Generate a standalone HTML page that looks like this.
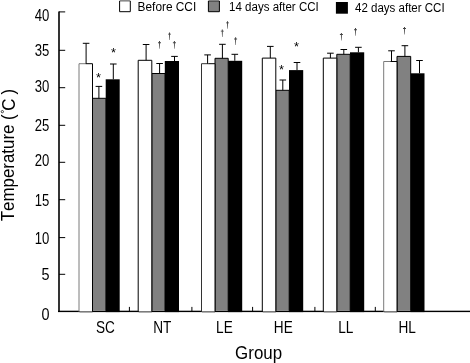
<!DOCTYPE html><html><head><meta charset="utf-8"><style>html,body{margin:0;padding:0;background:#fff;overflow:hidden}svg{display:block;will-change:transform}text{font-family:"Liberation Sans", sans-serif;fill:#000;font-kerning:none}</style></head><body>
<svg width="470" height="363" viewBox="0 0 470 363">
<rect width="470" height="363" fill="#fff"/>
<rect x="58" y="310.7" width="412" height="1.4" fill="#000"/>
<rect x="105.70" y="79.30" width="14.00" height="232.80" fill="#000"/>
<rect x="92.50" y="98.30" width="13.40" height="212.50" fill="#818181"/>
<path d="M92.50 310.8V98.30H105.90V310.8" fill="none" stroke="#000" stroke-width="1"/>
<rect x="79.00" y="63.70" width="13.50" height="247.30" fill="#fff"/>
<rect x="79.50" y="311.0" width="13.00" height="1.5" fill="#7c7c7c"/>
<path d="M79.00 311.7V63.70H85.75" fill="none" stroke="#7a7a7a" stroke-width="1"/>
<path d="M85.75 63.70H92.50V311.7" fill="none" stroke="#000" stroke-width="1"/>
<rect x="164.80" y="61.00" width="14.20" height="251.10" fill="#000"/>
<rect x="151.80" y="73.50" width="13.20" height="237.30" fill="#818181"/>
<path d="M151.80 310.8V73.50H165.00V310.8" fill="none" stroke="#000" stroke-width="1"/>
<rect x="138.20" y="60.30" width="13.60" height="250.70" fill="#fff"/>
<rect x="138.70" y="311.0" width="13.10" height="1.5" fill="#7c7c7c"/>
<path d="M138.20 311.7V60.30H145.00" fill="none" stroke="#000" stroke-width="1"/>
<path d="M145.00 60.30H151.80V311.7" fill="none" stroke="#000" stroke-width="1"/>
<rect x="228.00" y="60.80" width="14.20" height="251.30" fill="#000"/>
<rect x="215.00" y="58.30" width="13.20" height="252.50" fill="#818181"/>
<path d="M215.00 310.8V58.30H228.20V310.8" fill="none" stroke="#000" stroke-width="1"/>
<rect x="201.50" y="63.70" width="13.50" height="247.30" fill="#fff"/>
<rect x="202.00" y="311.0" width="13.00" height="1.5" fill="#7c7c7c"/>
<path d="M201.50 311.7V63.70H208.25" fill="none" stroke="#333" stroke-width="1"/>
<path d="M208.25 63.70H215.00V311.7" fill="none" stroke="#000" stroke-width="1"/>
<rect x="289.00" y="70.10" width="14.20" height="242.00" fill="#000"/>
<rect x="275.80" y="90.30" width="13.40" height="220.50" fill="#818181"/>
<path d="M275.80 310.8V90.30H289.20V310.8" fill="none" stroke="#000" stroke-width="1"/>
<rect x="262.30" y="58.10" width="13.50" height="252.90" fill="#fff"/>
<rect x="262.80" y="311.0" width="13.00" height="1.5" fill="#7c7c7c"/>
<path d="M262.30 311.7V58.10H269.05" fill="none" stroke="#000" stroke-width="1"/>
<path d="M269.05 58.10H275.80V311.7" fill="none" stroke="#000" stroke-width="1"/>
<rect x="350.00" y="52.30" width="14.20" height="259.80" fill="#000"/>
<rect x="336.80" y="54.30" width="13.40" height="256.50" fill="#818181"/>
<path d="M336.80 310.8V54.30H350.20V310.8" fill="none" stroke="#000" stroke-width="1"/>
<rect x="323.30" y="58.10" width="13.50" height="252.90" fill="#fff"/>
<rect x="323.80" y="311.0" width="13.00" height="1.5" fill="#7c7c7c"/>
<path d="M323.30 311.7V58.10H330.05" fill="none" stroke="#000" stroke-width="1"/>
<path d="M330.05 58.10H336.80V311.7" fill="none" stroke="#000" stroke-width="1"/>
<rect x="410.50" y="73.30" width="14.00" height="238.80" fill="#000"/>
<rect x="397.00" y="56.40" width="13.70" height="254.40" fill="#818181"/>
<path d="M397.00 310.8V56.40H410.70V310.8" fill="none" stroke="#000" stroke-width="1"/>
<rect x="383.70" y="61.50" width="13.30" height="249.50" fill="#fff"/>
<rect x="384.20" y="311.0" width="12.80" height="1.5" fill="#7c7c7c"/>
<path d="M383.70 311.7V61.50H390.35" fill="none" stroke="#7a7a7a" stroke-width="1"/>
<path d="M390.35 61.50H397.00V311.7" fill="none" stroke="#000" stroke-width="1"/>
<path d="M86.10 63.70V43.30M82.80 43.30H89.40" stroke="#000" stroke-width="1" fill="none"/>
<path d="M98.90 98.30V86.40M95.60 86.40H102.20" stroke="#000" stroke-width="1" fill="none"/>
<path d="M113.30 79.30V64.00M110.00 64.00H116.60" stroke="#000" stroke-width="1" fill="none"/>
<path d="M146.10 60.30V44.50M142.80 44.50H149.40" stroke="#000" stroke-width="1" fill="none"/>
<path d="M159.60 73.50V63.50M156.30 63.50H162.90" stroke="#000" stroke-width="1" fill="none"/>
<path d="M174.50 61.00V56.40M171.20 56.40H177.80" stroke="#000" stroke-width="1" fill="none"/>
<path d="M207.60 63.70V54.90M204.30 54.90H210.90" stroke="#000" stroke-width="1" fill="none"/>
<path d="M222.40 58.30V44.30M219.10 44.30H225.70" stroke="#000" stroke-width="1" fill="none"/>
<path d="M234.80 60.80V54.30M231.50 54.30H238.10" stroke="#000" stroke-width="1" fill="none"/>
<path d="M270.30 58.10V46.40M267.00 46.40H273.60" stroke="#000" stroke-width="1" fill="none"/>
<path d="M282.80 90.30V80.00M279.50 80.00H286.10" stroke="#000" stroke-width="1" fill="none"/>
<path d="M297.00 70.10V62.50M293.70 62.50H300.30" stroke="#000" stroke-width="1" fill="none"/>
<path d="M330.40 58.10V53.20M327.10 53.20H333.70" stroke="#000" stroke-width="1" fill="none"/>
<path d="M343.80 54.30V49.50M340.50 49.50H347.10" stroke="#000" stroke-width="1" fill="none"/>
<path d="M358.40 52.30V47.30M355.10 47.30H361.70" stroke="#000" stroke-width="1" fill="none"/>
<path d="M391.50 61.50V50.80M388.20 50.80H394.80" stroke="#000" stroke-width="1" fill="none"/>
<path d="M404.90 56.40V45.70M401.60 45.70H408.20" stroke="#000" stroke-width="1" fill="none"/>
<path d="M419.50 73.30V60.50M416.20 60.50H422.80" stroke="#000" stroke-width="1" fill="none"/>
<path d="M59.00 11.40V312.1" stroke="#000" stroke-width="1.6" fill="none"/>
<path d="M59.00 11.90H65.2" stroke="#000" stroke-width="1"/>
<path d="M59.00 50.30H65.2" stroke="#000" stroke-width="1"/>
<path d="M59.00 87.70H65.2" stroke="#000" stroke-width="1"/>
<path d="M59.00 125.30H65.2" stroke="#000" stroke-width="1"/>
<path d="M59.00 162.30H65.2" stroke="#000" stroke-width="1"/>
<path d="M59.00 199.70H65.2" stroke="#000" stroke-width="1"/>
<path d="M59.00 237.60H65.2" stroke="#000" stroke-width="1"/>
<path d="M59.00 274.30H65.2" stroke="#000" stroke-width="1"/>
<path d="M129.40 311V306.9" stroke="#000" stroke-width="1"/>
<path d="M191.90 311V306.9" stroke="#000" stroke-width="1"/>
<path d="M252.60 311V306.9" stroke="#000" stroke-width="1"/>
<path d="M314.90 311V306.9" stroke="#000" stroke-width="1"/>
<path d="M375.30 311V306.9" stroke="#000" stroke-width="1"/>
<text transform="translate(49.30 20.60) scale(0.800 1)" text-anchor="end" font-size="16.4">40</text>
<text transform="translate(49.30 56.00) scale(0.800 1)" text-anchor="end" font-size="16.4">35</text>
<text transform="translate(49.30 92.30) scale(0.800 1)" text-anchor="end" font-size="16.4">30</text>
<text transform="translate(49.30 131.00) scale(0.800 1)" text-anchor="end" font-size="16.4">25</text>
<text transform="translate(49.30 166.40) scale(0.800 1)" text-anchor="end" font-size="16.4">20</text>
<text transform="translate(49.30 206.00) scale(0.800 1)" text-anchor="end" font-size="16.4">15</text>
<text transform="translate(49.30 244.40) scale(0.800 1)" text-anchor="end" font-size="16.4">10</text>
<text transform="translate(49.50 279.70) scale(0.880 1)" text-anchor="end" font-size="16.4">5</text>
<text transform="translate(49.50 319.80) scale(0.880 1)" text-anchor="end" font-size="16.4">0</text>
<text transform="translate(105.50 332.6) scale(0.83 1)" text-anchor="middle" font-size="16.4">SC</text>
<text transform="translate(162.30 332.6) scale(0.83 1)" text-anchor="middle" font-size="16.4">NT</text>
<text transform="translate(224.40 332.6) scale(0.83 1)" text-anchor="middle" font-size="16.4">LE</text>
<text transform="translate(283.30 332.6) scale(0.83 1)" text-anchor="middle" font-size="16.4">HE</text>
<text transform="translate(345.80 332.6) scale(0.83 1)" text-anchor="middle" font-size="16.4">LL</text>
<text transform="translate(407.20 332.6) scale(0.83 1)" text-anchor="middle" font-size="16.4">HL</text>
<text transform="translate(258.6 359.1) scale(0.89 1)" text-anchor="middle" font-size="19">Group</text>
<text transform="translate(14 221.2) rotate(-90) scale(0.965 1)" font-size="17.5">Temperature (</text>
<text transform="translate(14.5 110.66) rotate(-90) scale(0.97 1)" font-size="17.5">C</text>
<text transform="translate(14 94.6) rotate(-90) scale(0.97 1)" font-size="17.5">)</text>
<circle cx="2.35" cy="111.65" r="1.15" fill="none" stroke="#000" stroke-width="0.7"/>
<text transform="translate(98.50 81.70) scale(0.95 1)" text-anchor="middle" font-size="13.5">*</text>
<text transform="translate(113.60 56.80) scale(0.95 1)" text-anchor="middle" font-size="13.5">*</text>
<text transform="translate(281.60 74.20) scale(0.95 1)" text-anchor="middle" font-size="13.5">*</text>
<text transform="translate(296.40 50.80) scale(0.95 1)" text-anchor="middle" font-size="13.5">*</text>
<path d="M158.00 42.30H161.00V43.20H158.00ZM159.00 41.10L160.00 41.10L159.92 45.10L159.72 48.70L159.28 48.70L159.08 45.10Z" fill="#444"/>
<path d="M168.00 33.70H171.00V34.60H168.00ZM169.00 32.50L170.00 32.50L169.92 36.50L169.72 40.10L169.28 40.10L169.08 36.50Z" fill="#444"/>
<path d="M172.90 42.30H175.90V43.20H172.90ZM173.90 41.10L174.90 41.10L174.82 45.10L174.62 48.70L174.18 48.70L173.98 45.10Z" fill="#444"/>
<path d="M220.80 30.70H223.80V31.60H220.80ZM221.80 29.50L222.80 29.50L222.72 33.50L222.52 37.10L222.08 37.10L221.88 33.50Z" fill="#444"/>
<path d="M226.00 22.40H229.00V23.30H226.00ZM227.00 21.20L228.00 21.20L227.92 25.20L227.72 28.80L227.28 28.80L227.08 25.20Z" fill="#444"/>
<path d="M234.10 38.50H237.10V39.40H234.10ZM235.10 37.30L236.10 37.30L236.02 41.30L235.82 44.90L235.38 44.90L235.18 41.30Z" fill="#444"/>
<path d="M339.90 34.10H342.90V35.00H339.90ZM340.90 32.90L341.90 32.90L341.82 36.90L341.62 40.50L341.18 40.50L340.98 36.90Z" fill="#444"/>
<path d="M354.00 29.30H357.00V30.20H354.00ZM355.00 28.10L356.00 28.10L355.92 32.10L355.72 35.70L355.28 35.70L355.08 32.10Z" fill="#444"/>
<path d="M403.00 28.10H406.00V29.00H403.00ZM404.00 26.90L405.00 26.90L404.92 30.90L404.72 34.50L404.28 34.50L404.08 30.90Z" fill="#444"/>
<rect x="119.6" y="0" width="10.7" height="11.7" fill="#fff"/>
<rect x="119.6" y="0" width="10.7" height="1.6" fill="#8a8a8a"/>
<path d="M119.6 1V11.7H130.3V1" fill="none" stroke="#000" stroke-width="1"/>
<rect x="208.4" y="0" width="11" height="11.7" fill="#818181"/>
<rect x="208.4" y="1" width="11" height="1" fill="#555"/>
<path d="M208.4 1V11.7H219.4V1" fill="none" stroke="#000" stroke-width="1"/>
<rect x="335.9" y="2.0" width="12" height="11.7" fill="#000"/>
<text transform="translate(137.6 10.7) scale(0.905 1)" font-size="13.1">Before CCI</text>
<text transform="translate(229.1 10.7) scale(0.88 1)" font-size="13.1">14 days after CCI</text>
<text transform="translate(355.0 12.3) scale(0.88 1)" font-size="13.1">42 days after CCI</text>
</svg></body></html>
